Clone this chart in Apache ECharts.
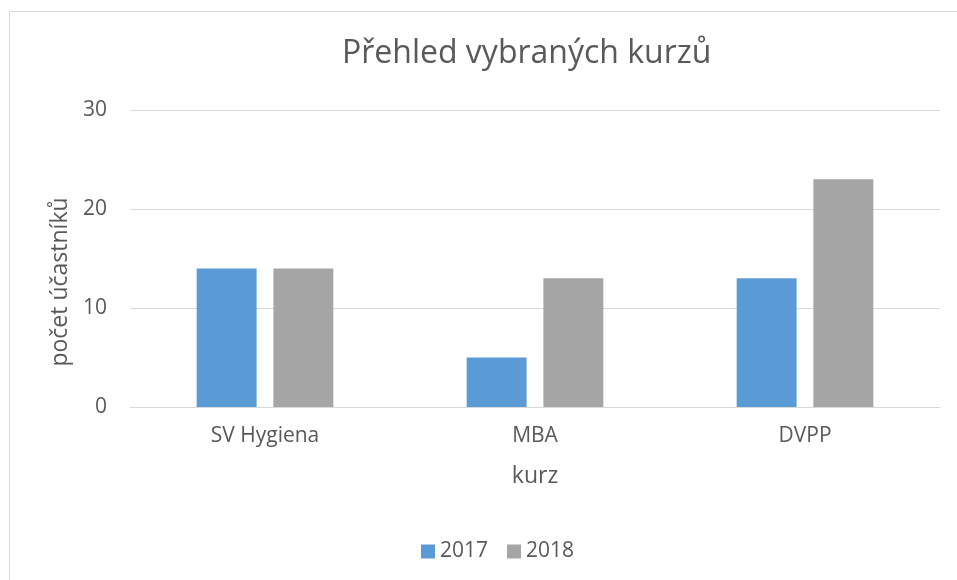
<!DOCTYPE html>
<html><head><meta charset="utf-8">
<script src="https://cdn.jsdelivr.net/npm/echarts@6/dist/echarts.min.js"></script>
<style>html,body{margin:0;padding:0;background:#fff}#c{width:957px;height:580px}</style>
</head><body><div id="c"></div>
<script>
const categories = ['SV Hygiena', 'MBA', 'DVPP'];
const values2017 = [14, 5, 13];
const values2018 = [14, 13, 23];
const yTicks = [0, 10, 20, 30];
const yAxisTitle = 'počet účastníků';
const FONT = '"Open Sans", "Noto Sans", sans-serif';
const chart = echarts.init(document.getElementById('c'));
chart.setOption({
  animation: false,
  textStyle: { fontFamily: FONT },
  graphic: [
    { type: 'rect', shape: { x: 9.5, y: 11.5, width: 1000, height: 1000 }, style: { fill: 'none', stroke: '#D9D9D9', lineWidth: 1 }, silent: true },
    { type: 'text', x: 60, y: 282, rotation: Math.PI / 2, style: { text: yAxisTitle, font: '23px "Open Sans", sans-serif', fill: '#595959', align: 'center', verticalAlign: 'middle' }, silent: true }
  ],
  title: { text: 'Přehled vybraných kurzů', left: 337, top: 33, textStyle: { fontFamily: FONT, fontSize: 32, fontWeight: 'normal', color: '#595959' } },
  legend: { top: 536, left: 416, itemWidth: 14, itemHeight: 14, itemGap: 19, icon: 'rect', textStyle: { fontFamily: FONT, fontSize: 21, color: '#595959' }, data: ['2017', '2018'] },
  grid: { left: 130, right: 17, top: 110, bottom: 173, containLabel: false },
  xAxis: {
    type: 'category', data: categories,
    name: 'kurz', nameLocation: 'middle', nameGap: 58, nameTextStyle: { fontFamily: FONT, fontSize: 23, color: '#595959' },
    axisLine: { lineStyle: { color: '#D9D9D9', width: 1 } }, axisTick: { show: false },
    axisLabel: { fontFamily: FONT, fontSize: 21, color: '#595959', margin: 19 }
  },
  yAxis: {
    type: 'value', min: 0, max: 30, interval: 10,
    axisLine: { show: false }, axisTick: { show: false },
    axisLabel: { fontFamily: FONT, fontSize: 21, color: '#595959', margin: 23 },
    splitLine: { lineStyle: { color: '#D9D9D9', width: 1 } }
  },
  series: [
    { name: '2017', type: 'bar', data: values2017, barWidth: '22.2%', barGap: '28%', itemStyle: { color: '#5B9BD5' } },
    { name: '2018', type: 'bar', data: values2018, barWidth: '22.2%', barGap: '28%', itemStyle: { color: '#A5A5A5' } }
  ]
});
</script></body></html>
